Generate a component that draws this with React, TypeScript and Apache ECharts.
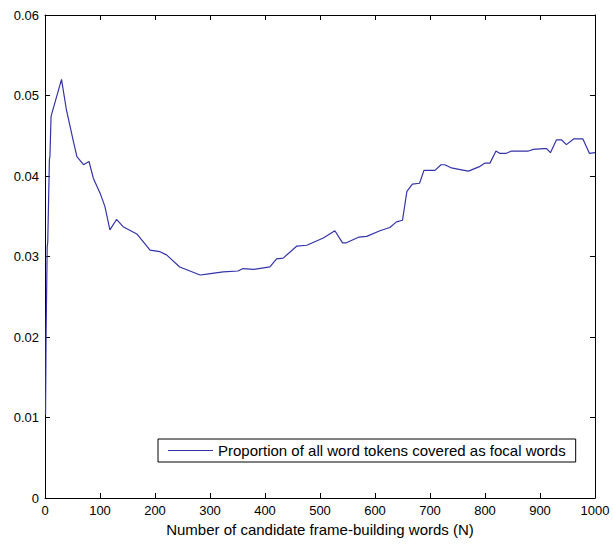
import React, { useEffect, useRef } from "react";
import * as echarts from "echarts";

const nValues = [
  1, 2, 4, 5, 8, 9, 11, 30, 39, 51, 58, 70, 80, 88, 100, 109, 118, 130, 142, 167,
  191, 209, 221, 245, 282, 294, 324, 351, 360, 379, 409, 421, 433, 458, 476, 506,
  527, 541, 548, 570, 585, 609, 627, 639, 650, 658, 668, 681, 689, 709, 720, 727,
  739, 755, 770, 791, 800, 809, 820, 827, 838, 848, 879, 888, 906, 912, 919, 930,
  939, 948, 961, 978, 990, 1000,
];

const proportions = [
  0.0103, 0.0205, 0.0312, 0.0318, 0.042, 0.0425, 0.0474, 0.052, 0.0482, 0.0445,
  0.0424, 0.0414, 0.0418, 0.0397, 0.0379, 0.0362, 0.0333, 0.0346, 0.0337, 0.0328,
  0.0308, 0.0306, 0.0302, 0.0287, 0.0277, 0.0278, 0.0281, 0.0282, 0.0285, 0.0284,
  0.0287, 0.0297, 0.0298, 0.0313, 0.0314, 0.0323, 0.0332, 0.0317, 0.0317, 0.0324,
  0.0325, 0.0332, 0.0336, 0.0343, 0.0345, 0.0381, 0.039, 0.0391, 0.0407, 0.0407,
  0.0414, 0.0414, 0.041, 0.0408, 0.0406, 0.0412, 0.0416, 0.0416, 0.0431, 0.0428,
  0.0428, 0.0431, 0.0431, 0.0433, 0.0434, 0.0434, 0.0429, 0.0445, 0.0445, 0.0439,
  0.0446, 0.0446, 0.0428, 0.0429,
];

const seriesName = "Proportion of all word tokens covered as focal words";
const xTitle = "Number of candidate frame-building words (N)";

export default function App() {
  const ref = useRef<HTMLDivElement>(null);
  useEffect(() => {
    if (!ref.current) return;
    const chart = echarts.init(ref.current, undefined, { renderer: "svg" });
    const font = "'Liberation Sans', Arial, sans-serif";
    const mkAxisLine = () => ({ show: true, onZero: false, lineStyle: { color: "#000", width: 1 } });
    const mkTick = () => ({ show: true, inside: true, length: 5, lineStyle: { color: "#000", width: 1 } });
    const data = nValues.map((n, i) => [n, proportions[i]]);
    chart.setOption({
      animation: false,
      backgroundColor: "#fff",
      textStyle: { fontFamily: font },
      grid: [
        { left: 45, right: 18, top: 15, bottom: 48, containLabel: false },
        { left: 45, right: 18, top: 15, bottom: 48, containLabel: false },
      ],
      legend: {
        left: 158,
        top: 439,
        orient: "horizontal",
        backgroundColor: "#fff",
        borderColor: "#000",
        borderWidth: 1,
        borderRadius: 0,
        padding: [4, 10, 4, 10],
        itemWidth: 45,
        itemHeight: 1,
        itemGap: 0,
        icon: "rect",
        textStyle: { fontSize: 15, color: "#000", fontFamily: font },
        data: [{ name: seriesName, itemStyle: { color: "#3333aa" } }],
      },
      xAxis: [
        {
          type: "value",
          gridIndex: 0,
          min: 0,
          max: 1000,
          interval: 100,
          position: "bottom",
          name: xTitle,
          nameLocation: "middle",
          nameGap: 18,
          nameTextStyle: { fontSize: 15, color: "#000", fontFamily: font },
          axisLabel: {
            fontSize: 13,
            color: "#000",
            margin: 6,
            fontFamily: font,
            formatter: (v: number) => String(v),
          },
          axisLine: mkAxisLine(),
          axisTick: mkTick(),
          splitLine: { show: false },
        },
        {
          type: "value",
          gridIndex: 1,
          min: 0,
          max: 1000,
          interval: 100,
          position: "top",
          axisLabel: { show: false },
          axisLine: mkAxisLine(),
          axisTick: mkTick(),
          splitLine: { show: false },
        },
      ],
      yAxis: [
        {
          type: "value",
          gridIndex: 0,
          min: 0,
          max: 0.06,
          interval: 0.01,
          position: "left",
          axisLabel: {
            fontSize: 13,
            color: "#000",
            margin: 6,
            fontFamily: font,
            formatter: (v: number) => (v === 0 ? "0" : v.toFixed(2)),
          },
          axisLine: mkAxisLine(),
          axisTick: mkTick(),
          splitLine: { show: false },
        },
        {
          type: "value",
          gridIndex: 1,
          min: 0,
          max: 0.06,
          interval: 0.01,
          position: "right",
          axisLabel: { show: false },
          axisLine: mkAxisLine(),
          axisTick: mkTick(),
          splitLine: { show: false },
        },
      ],
      series: [
        {
          name: seriesName,
          type: "line",
          xAxisIndex: 0,
          yAxisIndex: 0,
          data,
          symbol: "none",
          showSymbol: false,
          lineStyle: { color: "#3333aa", width: 1.2 },
          itemStyle: { color: "#3333aa" },
          z: 3,
        },
        {
          name: "frame",
          type: "line",
          xAxisIndex: 1,
          yAxisIndex: 1,
          data,
          symbol: "none",
          showSymbol: false,
          silent: true,
          lineStyle: { opacity: 0 },
          itemStyle: { opacity: 0 },
          tooltip: { show: false },
        },
      ],
    });
    return () => chart.dispose();
  }, []);
  return (
    <div
      ref={ref}
      style={{ position: "fixed", left: 0, top: 0, width: 613, height: 546 }}
    />
  );
}
